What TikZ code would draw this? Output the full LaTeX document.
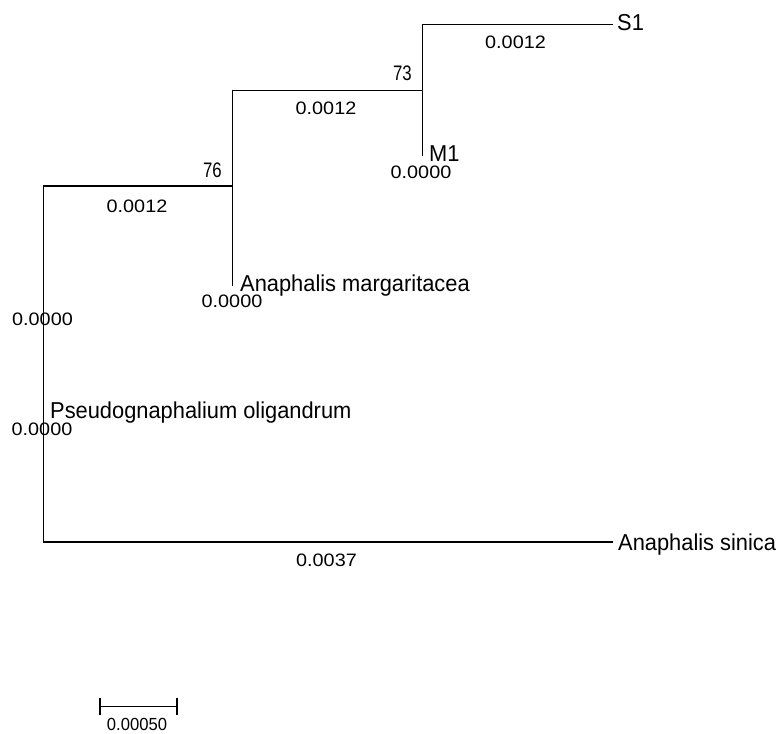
\documentclass[tikz,border=0pt]{standalone}
\usepackage{fontspec}
\setmainfont{Liberation Sans}
\newfontfamily\taxfont[FakeStretch=0.95]{Liberation Sans}
\newfontfamily\brfont[FakeStretch=1.1]{Liberation Sans}
\newfontfamily\bsfont[FakeStretch=0.8]{Liberation Sans}
\newfontfamily\scfont[FakeStretch=0.95]{Liberation Sans}
\tikzset{
  branch/.style={line width=1.3pt, line cap=rect},
  taxon/.style={anchor=base west, inner sep=0pt, font=\taxfont\fontsize{23}{27}\selectfont},
  blen/.style={anchor=base, inner sep=0pt, font=\brfont\fontsize{18}{21}\selectfont},
  boot/.style={anchor=base east, inner sep=0pt, font=\bsfont\fontsize{21}{24}\selectfont},
  scalelab/.style={anchor=base, inner sep=0pt, font=\scfont\fontsize{17.5}{20}\selectfont},
}
\begin{document}
\begin{tikzpicture}[x=1pt,y=-1pt]
\useasboundingbox (0,0) rectangle (778,733);
% tree coordinates
\coordinate (rtop) at (43.3,186);
\coordinate (rbot) at (43.3,542);
\coordinate (n76) at (232.3,186);
\coordinate (n76top) at (232.3,90.7);
\coordinate (marg) at (232.3,285);
\coordinate (n73) at (422.3,90.7);
\coordinate (n73top) at (422.3,24.3);
\coordinate (m1) at (422.3,155);
\coordinate (s1) at (612,24.3);
\coordinate (sin) at (612,542);
% branches
\draw[branch] (rtop) -- (rbot);
\draw[branch] (rtop) -- (n76);
\draw[branch] (n76top) -- (marg);
\draw[branch] (n76top) -- (n73);
\draw[branch] (n73top) -- (m1);
\draw[branch] (n73top) -- (s1);
\draw[branch] (rbot) -- (sin);
% taxa
\node[taxon] (ts1) at (617,31) {S1};
\node[taxon] (tm1) at (429,161) {M1};
\node[taxon] (tmarg) at (240,291) {Anaphalis margaritacea};
\node[taxon] (tpseudo) at (50,418) {Pseudognaphalium oligandrum};
\node[taxon] (tsin) at (618,550) {Anaphalis sinica};
% branch lengths
\node[blen] (b1) at (515.5,49) {0.0012};
\node[blen] (b2) at (326,114) {0.0012};
\node[blen] (b3) at (137,212) {0.0012};
\node[blen] (b4) at (421,178) {0.0000};
\node[blen] (b5) at (232,307) {0.0000};
\node[blen] (b6) at (42.5,325) {0.0000};
\node[blen] (b7) at (42,435) {0.0000};
\node[blen] (b8) at (326.5,566) {0.0037};
% bootstrap
\node[boot] (bs73) at (412,81) {73};
\node[boot] (bs76) at (222,177) {76};
% scale bar
\coordinate (sba) at (100,706.5);
\coordinate (sbb) at (177,706.5);
\draw[line width=1.3pt] (sba) -- (sbb);
\draw[line width=1.3pt] (100,698) -- (100,715);
\draw[line width=1.3pt] (177,698) -- (177,715);
\node[scalelab] (sbl) at (137,730) {0.00050};
\end{tikzpicture}
\end{document}
